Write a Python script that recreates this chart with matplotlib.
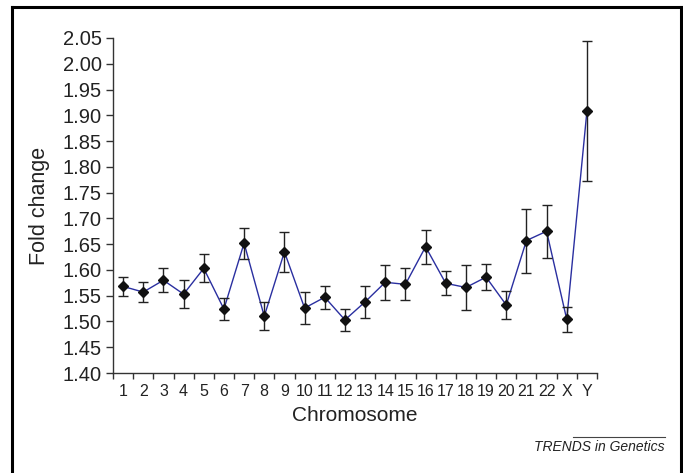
import numpy as np
import matplotlib
matplotlib.use('Agg')
import matplotlib.pyplot as plt
from matplotlib.lines import Line2D

plt.rcParams['font.family'] = ['Liberation Sans', 'DejaVu Sans']

# values
chromosomes = ['1', '2', '3', '4', '5', '6', '7', '8', '9', '10', '11', '12',
               '13', '14', '15', '16', '17', '18', '19', '20', '21', '22', 'X', 'Y']
fold_change = [1.568, 1.557, 1.580, 1.553, 1.603, 1.524, 1.652, 1.510, 1.635, 1.526,
               1.547, 1.503, 1.538, 1.576, 1.572, 1.645, 1.574, 1.566, 1.586, 1.532,
               1.657, 1.675, 1.504, 1.908]
errors = [0.018, 0.020, 0.023, 0.027, 0.027, 0.021, 0.030, 0.027, 0.039, 0.031,
          0.022, 0.021, 0.031, 0.034, 0.031, 0.033, 0.023, 0.044, 0.025, 0.027,
          0.062, 0.051, 0.025, 0.136]
y_ticks = [1.40, 1.45, 1.50, 1.55, 1.60, 1.65, 1.70, 1.75, 1.80, 1.85, 1.90, 1.95, 2.00, 2.05]

W, H = 683, 473
fig = plt.figure(figsize=(W / 100, H / 100), dpi=100)
ax = fig.add_axes([113 / W, 1 - 373 / H, (597 - 113) / W, (373 - 38) / H])

x = np.arange(1, len(chromosomes) + 1)
ax.plot(x, fold_change, color='#2a2fa0', lw=1.0, zorder=2)
ax.errorbar(x, fold_change, yerr=errors, fmt='none', ecolor='#222222',
            elinewidth=1.0, capsize=3.5, capthick=1.0, zorder=3)
ax.plot(x, fold_change, ls='none', marker='D', ms=5, color='#111111', zorder=4)

ax.set_xlim(0.5, len(chromosomes) + 0.5)
ax.set_ylim(1.40, 2.05)
ax.set_yticks(y_ticks)
ax.set_yticklabels(['%.2f' % v for v in y_ticks], fontsize=14.5, color='#222222')

# tick marks at category boundaries, labels at category centres
ax.set_xticks(np.arange(0.5, len(chromosomes) + 1, 1.0))
ax.set_xticklabels([])
ax.set_xticks(x, minor=True)
ax.set_xticklabels(chromosomes, minor=True, fontsize=11.5, color='#222222')
ax.tick_params(axis='x', which='minor', length=0, pad=8)
ax.tick_params(axis='x', which='major', length=4, width=1, color='#333333')
ax.tick_params(axis='y', length=5, width=1, color='#333333', pad=3)

for s in ['top', 'right']:
    ax.spines[s].set_visible(False)
for s in ['left', 'bottom']:
    ax.spines[s].set_color('#333333')
    ax.spines[s].set_linewidth(1.0)

ax.set_xlabel('Chromosome', fontsize=15, color='#222222', labelpad=5)
ax.set_ylabel('Fold change', fontsize=15.5, color='#222222', labelpad=9)

# outer frame
for xs, ys in [([12, 681], [7, 7]), ([12, 12], [7, 480]), ([681, 681], [7, 480])]:
    fig.add_artist(Line2D([v / W for v in xs], [1 - v / H for v in ys],
                          color='black', lw=2.2, transform=fig.transFigure))

# journal credit
fig.add_artist(Line2D([573 / W, 665 / W], [1 - 437 / H, 1 - 437 / H],
                      color='#444444', lw=0.8, transform=fig.transFigure))
fig.text(665 / W, 1 - 447 / H, 'TRENDS in Genetics', ha='right', va='center',
         fontsize=10, style='italic', color='#222222')

fig.savefig('out.png', dpi=100)
